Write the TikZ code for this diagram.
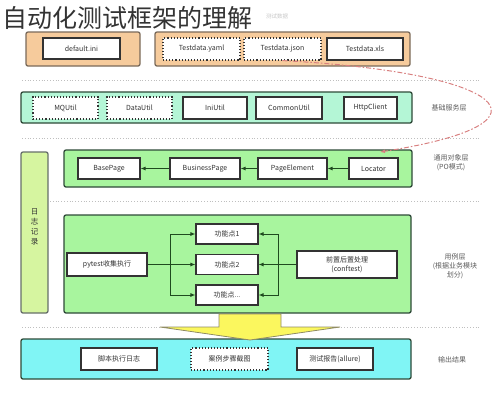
\documentclass[tikz,border=0pt]{standalone}
\usepackage{fontspec}
\setmainfont{Noto Sans CJK SC}
\usetikzlibrary{arrows.meta,calc}
\definecolor{peach}{HTML}{F6CB9C}
\definecolor{peachline}{HTML}{7A6A5A}
\definecolor{mint}{HTML}{B4F6D6}
\definecolor{lgreen}{HTML}{A8F59E}
\definecolor{lyellow}{HTML}{D6F5A0}
\definecolor{cyanf}{HTML}{80F5F5}
\definecolor{darkline}{HTML}{2E4A38}
\definecolor{arrowgreen}{HTML}{1F4A1F}
\definecolor{txt}{HTML}{333333}
\definecolor{redd}{HTML}{D88080}
\definecolor{yarrow}{HTML}{FBF75E}
\begin{document}
\begin{tikzpicture}[x=1pt,y=-1pt,
  outer/.style={draw=darkline, line width=1.3pt, rounded corners=2pt, inner sep=0pt},
  inbox/.style={draw=txt, fill=white, line width=1.1pt, inner sep=0pt, text=txt,
     font=\fontsize{7}{8.5}\selectfont, align=center},
  dotbox/.style={inbox, dotted, line width=1.2pt},
  side/.style={text=txt!80, font=\fontsize{7}{9}\selectfont, align=center, inner sep=0pt},
  sep/.style={draw=gray!50, dotted, line width=0.8pt},
  conn/.style={draw=arrowgreen, line width=1pt},
  arr/.style={conn, -{Latex[length=5pt,width=4pt]}}
]
\useasboundingbox (0,0) rectangle (496,400);

% separators
\draw[sep] (22,80) -- (480,80);
\draw[sep] (22,138) -- (480,138);
\draw[sep] (50,201) -- (480,201);
\draw[sep] (22,327) -- (480,327);

% top data boxes
\node[outer, draw=peachline, fill=peach, minimum width=114, minimum height=34] (cfg) at (83,49) {};
\node[outer, draw=peachline, fill=peach, minimum width=255, minimum height=34] (data) at (282.5,49) {};
\node[inbox, minimum width=77, minimum height=21] (ini) at (81.5,48.5) {default.ini};
\node[dotbox, minimum width=77, minimum height=22] (yaml) at (201.5,49) {Testdata.yaml};
\node[dotbox, minimum width=77, minimum height=22] (json) at (282.5,49) {Testdata.json};
\node[inbox, minimum width=76, minimum height=22] (xls) at (365,49) {Testdata.xls};

% title
\node[anchor=west, inner sep=0pt, text=txt, font=\fontsize{25}{28}\selectfont] (title) at (2,18) {自动化测试框架的理解};
\node[anchor=west, inner sep=0pt, text=gray!45, font=\fontsize{5.5}{6}\selectfont] (tdata) at (266,16) {测试数据};

% base layer
\node[outer, fill=mint, minimum width=391, minimum height=31] (base) at (216.5,107.5) {};
\node[dotbox, minimum width=65, minimum height=22] (mq) at (65.5,108) {MQUtil};
\node[dotbox, minimum width=65, minimum height=22] (du) at (139.5,108) {DataUtil};
\node[inbox, minimum width=64, minimum height=22] (iu) at (215,108) {IniUtil};
\node[inbox, minimum width=66, minimum height=22] (cu) at (289,108) {CommonUtil};
\node[inbox, minimum width=53, minimum height=22] (hc) at (370.5,108) {HttpClient};
\node[side] (lbase) at (449,108) {基础服务层};

% PO layer
\node[outer, fill=lgreen, minimum width=348, minimum height=37] (po) at (238,168.5) {};
\node[inbox, minimum width=62, minimum height=21] (bp) at (109,168.5) {BasePage};
\node[inbox, minimum width=70, minimum height=21] (bup) at (205,168.5) {BusinessPage};
\node[inbox, minimum width=69, minimum height=21] (pe) at (292.5,168.5) {PageElement};
\node[inbox, minimum width=49, minimum height=21] (loc) at (373.5,168.5) {Locator};
\node[side] (lpo) at (451,163) {通用对象层\\(PO模式)};
\draw[arr] (loc.west) -- (pe.east);
\draw[arr] (pe.west) -- (bup.east);
\draw[arr] (bup.west) -- (bp.east);

% dashed red connector
\coordinate (poin) at (380,152);
\draw[draw=redd, line width=1pt, dash pattern=on 5pt off 2pt on 1.5pt off 2pt,
  -{Latex[length=5pt,width=4pt]}] (json.south) .. controls (500,72) and (570,122) .. (poin);

% log box
\node[outer, fill=lyellow, draw=gray!70!darkline, minimum width=27, minimum height=161] (log) at (34.5,232.5) {};
\node[side, text=txt, font=\fontsize{7.5}{10}\selectfont] (logt) at (34.5,227) {日\\志\\记\\录};

% case layer
\node[outer, fill=lgreen, minimum width=347, minimum height=98] (case) at (237.5,264) {};
\node[inbox, minimum width=80, minimum height=23] (pyt) at (107,264.5) {pytest收集执行};
\node[inbox, minimum width=62, minimum height=20] (f1) at (227,234) {功能点1};
\node[inbox, minimum width=62, minimum height=20] (f2) at (227,264.5) {功能点2};
\node[inbox, minimum width=62, minimum height=20] (f3) at (227,295) {功能点...};
\node[inbox, minimum width=100, minimum height=27] (conf) at (347,264.5) {前置后置处理\\(conftest)};
\node[side] (lcase) at (455,266) {用例层\\(根据业务模块\\划分)};
\coordinate (sl) at (170,264.5);
\coordinate (sr) at (278,264.5);
\draw[conn] (pyt.east) -- (sl);
\draw[arr] (sl) |- (f1.west);
\draw[arr] (sl) -- (f2.west);
\draw[arr] (sl) |- (f3.west);
\draw[conn] (conf.west) -- (sr);
\draw[arr] (sr) |- (f1.east);
\draw[arr] (sr) -- (f2.east);
\draw[arr] (sr) |- (f3.east);

% output layer
\node[outer, fill=cyanf, minimum width=390, minimum height=40] (out) at (216,359) {};
\node[inbox, minimum width=76, minimum height=22] (o1) at (119,359) {脚本执行日志};
\node[dotbox, minimum width=77, minimum height=22] (o2) at (229.5,359) {案例步骤截图};
\node[inbox, minimum width=76, minimum height=22] (o3) at (335,359) {测试报告(allure)};
\node[side] (lout) at (452,360) {输出结果};

% big yellow arrow
\draw[draw=gray!70!olive, line width=0.8pt, fill=yarrow]
  (219,314) -- (281,314) -- (281,327) -- (340,327) -- (250,340) -- (160,327) -- (219,327) -- cycle;
\end{tikzpicture}
\end{document}
